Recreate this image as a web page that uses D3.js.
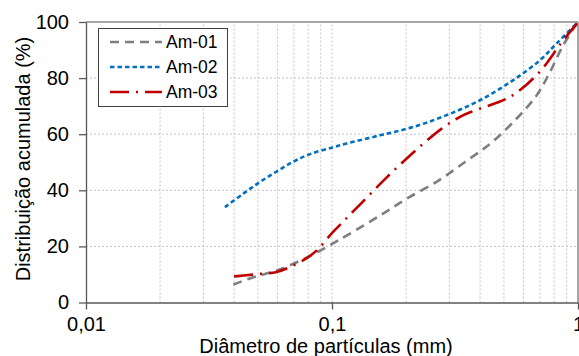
<!DOCTYPE html>
<html>
<head>
<meta charset="utf-8">
<script src="https://cdn.jsdelivr.net/npm/d3@7"></script>
<style>
  html, body { margin: 0; padding: 0; background: #fff; }
  svg { display: block; }
  text { font-family: "Liberation Sans", Arial, sans-serif; fill: #000; }
</style>
</head>
<body>
<svg id="chart" width="579" height="356"></svg>
<script>
// ---- data ----
const seriesNames = ["Am-01", "Am-02", "Am-03"];

const am01D = [0.0397, 0.0479, 0.0596, 0.0789, 0.1006, 0.1165, 0.1567, 0.2012, 0.2748, 0.3473, 0.4121, 0.4525, 0.5634, 0.6795, 0.7695, 0.8714, 1.0];
const am01V = [6.4, 9.0, 11.4, 16.0, 21.0, 24.2, 31.0, 37.0, 43.8, 50.1, 54.7, 57.5, 65.6, 73.9, 82.2, 91.8, 100];

const am02D = [0.0367, 0.0436, 0.051, 0.0596, 0.0696, 0.0814, 0.1006, 0.1148, 0.1567, 0.2141, 0.2926, 0.3996, 0.5458, 0.7007, 0.8193, 1.0];
const am02V = [34.0, 38.8, 43.0, 46.7, 50.2, 52.9, 55.3, 56.7, 59.6, 62.6, 66.8, 72.1, 79.3, 86.4, 92.4, 100];

const am03D = [0.0400, 0.0436, 0.0510, 0.0596, 0.0696, 0.0789, 0.0867, 0.1006, 0.1165, 0.1299, 0.1642, 0.2141, 0.2792, 0.3314, 0.3813, 0.5292, 0.6897, 0.8529, 1.0];
const am03V = [9.3, 9.6, 10.2, 10.9, 13.2, 15.8, 18.6, 25.0, 30.7, 34.9, 44.0, 53.5, 62.0, 66.2, 68.5, 73.3, 81.7, 92.4, 100];

const xTickValues = [0.01, 0.1, 1];
const xTickLabels = ["0,01", "0,1", "1"];
const yTickValues = [0, 20, 40, 60, 80, 100];

// ---- layout ----
const svg = d3.select("#chart");
const margin = { left: 86, right: 1, top: 22, bottom: 53.5 };
const W = 579, H = 356;
const x = d3.scaleLog().domain([0.01, 1]).range([margin.left, W - margin.right]);
const y = d3.scaleLinear().domain([0, 100]).range([H - margin.bottom, margin.top]);

// gridlines
const gridX = [];
[0.01, 0.1].forEach(b => { for (let k = 1; k <= 9; k++) gridX.push(b * k); });
svg.append("g").selectAll("line").data(gridX.filter(v => v > 0.01)).join("line")
  .attr("x1", d => x(d)).attr("x2", d => x(d))
  .attr("y1", y(0)).attr("y2", y(100))
  .attr("stroke", "#c4c4c4").attr("stroke-width", 1).attr("stroke-dasharray", "2,2");
svg.append("g").selectAll("line").data([20, 40, 60, 80]).join("line")
  .attr("x1", x(0.01)).attr("x2", x(1))
  .attr("y1", d => y(d)).attr("y2", d => y(d))
  .attr("stroke", "#c4c4c4").attr("stroke-width", 1).attr("stroke-dasharray", "2,2");

// top and right border
svg.append("line").attr("x1", x(0.01)).attr("x2", x(1)).attr("y1", y(100)).attr("y2", y(100))
  .attr("stroke", "#a6a6a6").attr("stroke-width", 2);
svg.append("line").attr("x1", x(1)).attr("x2", x(1)).attr("y1", y(100)).attr("y2", y(0))
  .attr("stroke", "#a6a6a6").attr("stroke-width", 2);

// axes
const xAxis = d3.axisBottom(x).tickValues(xTickValues)
  .tickFormat((d, i) => xTickLabels[i]).tickSizeInner(7).tickSizeOuter(0).tickPadding(6);
const gx = svg.append("g").attr("transform", `translate(0,${y(0)})`).call(xAxis);
gx.select(".domain").attr("stroke", "#595959").attr("stroke-width", 1.3);
gx.selectAll(".tick line").attr("stroke", "#595959").attr("stroke-width", 1.3);
gx.selectAll(".tick text").attr("font-size", 20).attr("dy", "0.75em");

const yAxis = d3.axisLeft(y).tickValues(yTickValues).tickSizeInner(7).tickSizeOuter(0).tickPadding(10);
const gy = svg.append("g").attr("transform", `translate(${x(0.01)},0)`).call(yAxis);
gy.select(".domain").attr("stroke", "#595959").attr("stroke-width", 1.3);
gy.selectAll(".tick line").attr("stroke", "#595959").attr("stroke-width", 1.3);
gy.selectAll(".tick text").attr("font-size", 20);

// axis titles
svg.append("text").attr("x", 326).attr("y", 353).attr("text-anchor", "middle")
  .attr("font-size", 20).text("Diâmetro de partículas (mm)");
svg.append("text").attr("transform", `translate(30,${159}) rotate(-90)`)
  .attr("text-anchor", "middle").attr("font-size", 20).text("Distribuição acumulada (%)");

// series
const styles = [
  { color: "#7f7f7f", dash: "9,6" },
  { color: "#0070c0", dash: "4.5,3" },
  { color: "#c00000", dash: "19,7,2,7" }
];
const series = [
  am01D.map((d, i) => [d, am01V[i]]),
  am02D.map((d, i) => [d, am02V[i]]),
  am03D.map((d, i) => [d, am03V[i]])
];
const line = d3.line().x(d => x(d[0])).y(d => y(d[1])).curve(d3.curveCatmullRom.alpha(0.5));
svg.append("g").selectAll("path").data(series).join("path")
  .attr("d", line).attr("fill", "none")
  .attr("stroke", (d, i) => styles[i].color)
  .attr("stroke-width", 2.6)
  .attr("stroke-dasharray", (d, i) => styles[i].dash);

// legend
const lg = svg.append("g");
lg.append("rect").attr("x", 98.5).attr("y", 28.5).attr("width", 129).attr("height", 78)
  .attr("fill", "#fff").attr("stroke", "#404040").attr("stroke-width", 1);
seriesNames.forEach((n, i) => {
  const yy = 42 + i * 25;
  lg.append("line").attr("x1", 110).attr("x2", 162).attr("y1", yy).attr("y2", yy)
    .attr("stroke", styles[i].color).attr("stroke-width", 2.6)
    .attr("stroke-dasharray", styles[i].dash);
  lg.append("text").attr("x", 166).attr("y", yy).attr("dy", "0.35em")
    .attr("font-size", 17.5).text(n);
});
</script>
</body>
</html>
